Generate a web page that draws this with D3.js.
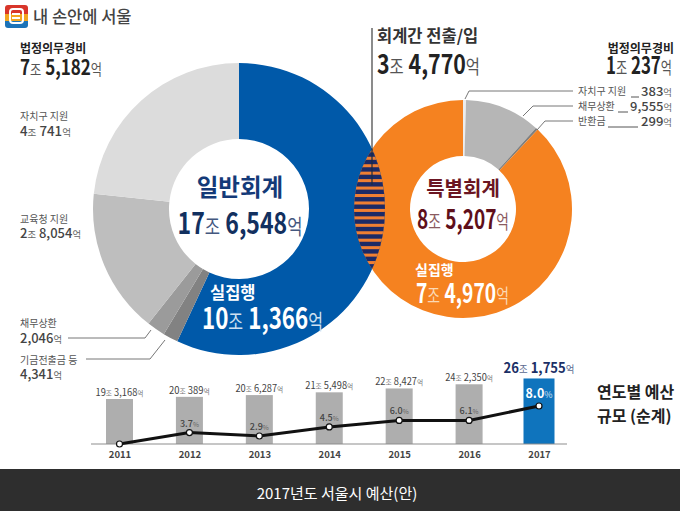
<!DOCTYPE html>
<html>
<head>
<meta charset="utf-8">
<script src="https://cdn.jsdelivr.net/npm/d3@7"></script>
<style>
body { margin: 0; background: #fff; }
svg { display: block; }
text { font-family: "Noto Sans CJK KR", sans-serif; }
</style>
</head>
<body>
<script>
var width = 680, height = 511;

// general account, clockwise from 12 o'clock. degrees as drawn in the picture
var generalNames = ["실집행", "기금전출금 등", "채무상환", "교육청 지원", "자치구 지원"];
var generalSweep = [205, 6, 7.3, 57.7, 84];
var generalColors = ["#0059a9", "#828282", "#9b9b9b", "#bebebe", "#dcdcdc"];

// special account, in 억 won
var specialNames = ["자치구 지원", "채무상환", "반환금", "실집행"];
var specialValues = [383, 9555, 299, 74970];
var specialColors = ["#ededed", "#b6b6b6", "#7f7f7f", "#f58220"];

// yearly budget
var years = ["2011", "2012", "2013", "2014", "2015", "2016", "2017"];
var budgets = [19.3168, 20.0389, 20.6287, 21.5498, 22.8427, 24.2350, 26.1755];
var budgetLabels = ["19조 3,168억", "20조 389억", "20조 6,287억", "21조 5,498억", "22조 8,427억", "24조 2,350억", "26조 1,755억"];
var rateLabels = ["", "3.7%", "2.9%", "4.5%", "6.0%", "6.1%", "8.0%"];
// height of the growth line as drawn, the picture does not plot it to true scale
var rateLevels = [0, 3.0, 2.1, 4.5, 6.2, 6.2, 10];

var svg = d3.select("body").append("svg")
    .attr("width", width)
    .attr("height", height)
    .style("background-color", "#fff");

// writes "7조 5,182억" with the units small and pale, squeezed to w pixels
// since the original uses a condensed face that is not installed here
function money(x, y, str, size, w, color, anchor, unitColor, weight) {
    var t = svg.append("text")
        .attr("fill", color)
        .attr("text-anchor", anchor || "start")
        .style("font-size", size + "px");
    str.split(/([조억%])/).forEach(function (s) {
        if (s == "") return;
        var unit = /[조억%]/.test(s);
        t.append("tspan").text(s)
            .attr("fill", unit ? (unitColor || color) : color)
            .style("font-size", (unit ? size * 0.72 : size) + "px")
            .style("font-weight", unit ? 400 : (weight || 700));
    });
    var sx = w / t.node().getComputedTextLength();
    t.attr("transform", "translate(" + x + "," + y + ") scale(" + sx + ",1)");
    return t;
}

function label(x, y, str, size, color, weight, anchor) {
    return svg.append("text")
        .attr("x", x).attr("y", y)
        .attr("dy", "0.36em")
        .attr("fill", color)
        .attr("text-anchor", anchor || "start")
        .style("font-size", size + "px")
        .style("font-weight", weight)
        .text(str);
}

function leader(points, color) {
    svg.append("path")
        .attr("d", d3.line()(points))
        .attr("fill", "none")
        .attr("stroke", color || "#777")
        .attr("stroke-width", 1);
}

// donuts
var cxA = 239, cyA = 209, rA = 146, rInA = 70;
var cxB = 463, cyB = 209, rB = 109, rInB = 53;

var pie = d3.pie().sort(null);

svg.append("g").attr("transform", "translate(" + cxB + "," + cyB + ")")
    .selectAll("path")
    .data(pie(specialValues))
    .enter()
    .append("path")
    .attr("d", d3.arc().innerRadius(rInB).outerRadius(rB))
    .attr("fill", function (d, i) { return specialColors[i]; });

svg.append("g").attr("transform", "translate(" + cxA + "," + cyA + ")")
    .selectAll("path")
    .data(pie(generalSweep))
    .enter()
    .append("path")
    .attr("d", d3.arc().innerRadius(rInA).outerRadius(rA))
    .attr("fill", function (d, i) { return generalColors[i]; });

// overlap of the two rings, striped
var defs = svg.append("defs");
defs.append("clipPath").attr("id", "clipA").append("circle")
    .attr("cx", cxA).attr("cy", cyA).attr("r", rA);
defs.append("clipPath").attr("id", "clipB").append("circle")
    .attr("cx", cxB).attr("cy", cyB).attr("r", rB);

var lens = svg.append("g").attr("clip-path", "url(#clipA)")
    .append("g").attr("clip-path", "url(#clipB)");
lens.append("rect")
    .attr("x", 340).attr("y", 130).attr("width", 60).attr("height", 160)
    .attr("fill", "#ef7f33");
lens.selectAll("rect.stripe")
    .data(d3.range(-8, 9))
    .enter()
    .append("rect")
    .attr("class", "stripe")
    .attr("x", 340).attr("width", 60)
    .attr("y", function (d) { return 204.5 + d * 7.45; })
    .attr("height", 4.4)
    .attr("fill", "#1c2a66");

// inter account marker
svg.append("line").attr("x1", 372).attr("x2", 372).attr("y1", 28).attr("y2", 148)
    .attr("stroke", "#6f6f6f").attr("stroke-width", 1.6);
svg.append("line").attr("x1", 372).attr("x2", 372).attr("y1", 148).attr("y2", 185)
    .attr("stroke", "#1c2a40").attr("stroke-width", 1.2);

// leader lines
leader([[68, 338], [145, 338], [151, 330]]);
leader([[86, 359], [150, 359], [165, 340]]);
leader([[465, 99], [469, 91], [573, 91]]);
leader([[523, 116], [533, 106], [573, 106]]);
leader([[537, 130], [545, 121], [573, 121]]);

// logo
var logo = svg.append("g");
defs.append("clipPath").attr("id", "clipLogo").append("rect")
    .attr("x", 5).attr("y", 5).attr("width", 23).attr("height", 23).attr("rx", 3);
var logoGroup = logo.append("g").attr("clip-path", "url(#clipLogo)");
logoGroup.append("rect").attr("x", 5).attr("y", 5).attr("width", 23).attr("height", 9).attr("fill", "#d8352a");
logoGroup.append("rect").attr("x", 5).attr("y", 14).attr("width", 23).attr("height", 7).attr("fill", "#f2a51f");
logoGroup.append("rect").attr("x", 5).attr("y", 21).attr("width", 23).attr("height", 7).attr("fill", "#1c73b8");
logo.append("rect").attr("x", 10).attr("y", 9).attr("width", 13).attr("height", 14).attr("rx", 3)
    .attr("fill", "none").attr("stroke", "#fff").attr("stroke-width", 2);
logo.append("rect").attr("x", 12).attr("y", 13).attr("width", 8).attr("height", 2).attr("fill", "#fff");
logo.append("rect").attr("x", 12).attr("y", 17).attr("width", 8).attr("height", 2).attr("fill", "#fff");

label(33, 17, "내 손안에 서울", 16.5, "#444", 500);

// left column
label(20, 49, "법정의무경비", 12, "#222", 700);
money(20, 75, "7조 5,182억", 21, 82, "#222", "start", "#555");
label(20, 116, "자치구 지원", 10, "#555", 400);
money(20, 136, "4조 741억", 13, 51, "#444", "start", "#666", 500);
label(20, 219, "교육청 지원", 10, "#555", 400);
money(20, 238, "2조 8,054억", 13, 61, "#444", "start", "#666", 500);
label(20, 323, "채무상환", 10, "#555", 400);
money(20, 343, "2,046억", 13, 42, "#444", "start", "#666", 500);
label(20, 360, "기금전출금 등", 10, "#555", 400);
money(20, 379, "4,341억", 13, 42, "#444", "start", "#666", 500);

// middle and right column
label(377, 36, "회계간 전출/입", 16.5, "#333", 700);
money(377, 74, "3조 4,770억", 27, 103, "#222", "start", "#555");
label(674, 49, "법정의무경비", 12, "#222", 700, "end");
money(672, 74, "1조 237억", 24, 66, "#222", "end", "#555");

label(578, 91, "자치구 지원", 10, "#555", 400);
money(672, 96, "383억", 12, 31, "#444", "end", "#666", 500);
label(578, 106, "채무상환", 10, "#555", 400);
money(672, 111, "9,555억", 12, 42, "#444", "end", "#666", 500);
label(578, 121, "반환금", 10, "#555", 400);
money(672, 126, "299억", 12, 31, "#444", "end", "#666", 500);
leader([[631, 97], [639, 97]], "#555");
leader([[618, 112], [628, 112]], "#555");
leader([[608, 127], [638, 127]], "#555");

// ring captions
label(240, 188, "일반회계", 23.5, "#143a78", 700, "middle");
money(240, 234, "17조 6,548억", 29, 125, "#12305f", "middle", "#44587f");
label(210, 293, "실집행", 16.5, "#fff", 700);
money(202, 329, "10조 1,366억", 29, 121, "#fff", "start", "#cfe0f0");
label(463, 189, "특별회계", 20, "#6b1522", 700, "middle");
money(463, 229, "8조 5,207억", 27, 92, "#5f0f1a", "middle", "#8a5a60");
label(415, 270, "실집행", 14, "#fff", 700);
money(416, 303, "7조 4,970억", 27, 93, "#fff", "start", "#fbd9b5");

// yearly chart
var baseY = 444;
var x = d3.scalePoint().domain(years).range([119.5, 539]);
var yBudget = d3.scaleLinear().domain([4.3, 27]).range([baseY, baseY - 68]);
var yRate = d3.scaleLinear().domain([0, 10]).range([baseY, baseY - 38]);

svg.selectAll("rect.bar")
    .data(years)
    .enter()
    .append("rect")
    .attr("class", "bar")
    .attr("x", function (d, i) { return x(d) - (i == 6 ? 15.5 : 13.5); })
    .attr("width", function (d, i) { return i == 6 ? 31 : 27; })
    .attr("y", function (d, i) { return yBudget(budgets[i]); })
    .attr("height", function (d, i) { return baseY - yBudget(budgets[i]); })
    .attr("fill", function (d, i) { return i == 6 ? "#0f74bd" : "#aeaeae"; });

svg.append("line").attr("x1", 91).attr("x2", 567).attr("y1", baseY).attr("y2", baseY)
    .attr("stroke", "#8d8d8d").attr("stroke-width", 1);

var axis = svg.append("g")
    .attr("transform", "translate(0," + baseY + ")")
    .call(d3.axisBottom(x).tickSize(0).tickPadding(7));
axis.select(".domain").remove();
axis.selectAll("text")
    .attr("fill", "#444")
    .style("font-size", "9.5px")
    .style("font-weight", 700)
    .style("font-family", "'Noto Sans CJK KR', sans-serif");

years.forEach(function (d, i) {
    var top = yBudget(budgets[i]);
    if (i == 6) money(x(d), top - 5, budgetLabels[i], 14, 71, "#1b2f66", "middle", "#5a6a90");
    else money(x(d), top - 3, budgetLabels[i], 10, i == 1 ? 41 : 48, "#444", "middle", "#777", 400);
    if (i > 0) {
        if (i == 6) money(x(d), yRate(rateLevels[i]) - 8, rateLabels[i], 13, 27, "#fff", "middle", "#cfe0f0");
        else money(x(d), yRate(rateLevels[i]) - 6, rateLabels[i], 9, 19, "#444", "middle", "#666", 500);
    }
});

svg.append("path")
    .attr("d", d3.line()
        .x(function (d, i) { return x(years[i]); })
        .y(function (d) { return yRate(d); })(rateLevels))
    .attr("fill", "none")
    .attr("stroke", "#111")
    .attr("stroke-width", 3);

svg.selectAll("circle.rate")
    .data(rateLevels)
    .enter()
    .append("circle")
    .attr("class", "rate")
    .attr("cx", function (d, i) { return x(years[i]); })
    .attr("cy", function (d) { return yRate(d); })
    .attr("r", 3)
    .attr("fill", "#fff")
    .attr("stroke", "#111")
    .attr("stroke-width", 1.2);

label(597, 392, "연도별 예산", 16, "#222", 700);
label(597, 416, "규모 (순계)", 16, "#222", 700);

// caption bar
svg.append("rect").attr("x", 0).attr("y", 469).attr("width", width).attr("height", 42)
    .attr("fill", "#2e2e2e");
label(337, 494, "2017년도 서울시 예산(안)", 15, "#fff", 400, "middle");
</script>
</body>
</html>
